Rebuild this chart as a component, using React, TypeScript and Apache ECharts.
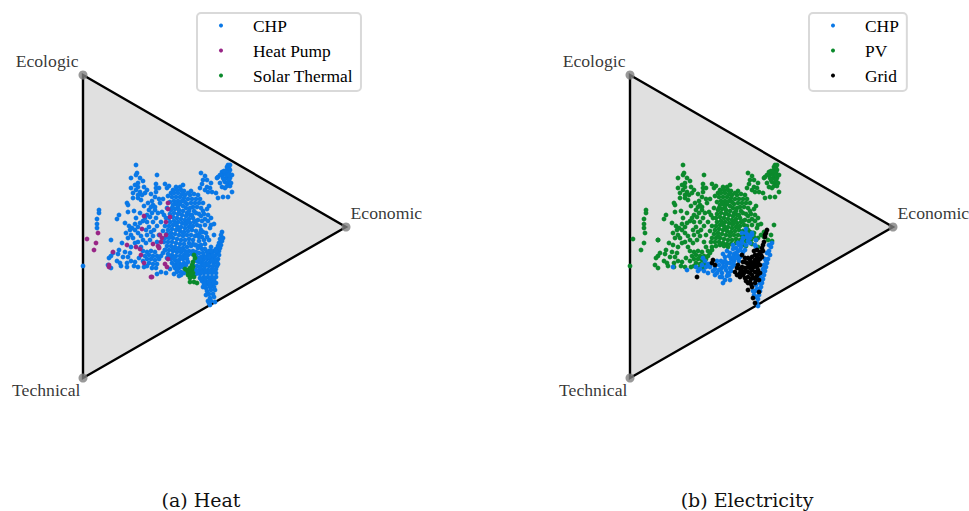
import React, { useEffect, useRef } from "react";
import * as echarts from "echarts";

const FONT = "'Liberation Serif', serif";
const CAPTION_FONT = "'DejaVu Serif', serif";
const BLUE = "#0a78e6";
const PURPLE = "#982586";
const GREEN = "#0b8a2c";
const BLACK = "#000000";

const cornerNames = ["Ecologic", "Economic", "Technical"];
const corners = [[0, 0], [263, 152], [0, 303]];
const heatLegend = ["CHP", "Heat Pump", "Solar Thermal"];
const elecLegend = ["CHP", "PV", "Grid"];

// horizontal distance from the triangle's left side, vertical distance below its apex
const sharedCloud = [
  [118,98],[122,101],[120,105],[124,105],[124,112],[127,113],[122,115],[129,117],[125,117],[135,123],[139,100],[139,97],[144,92],[145,90],[147,95],[144,95],[142,98],[146,98],[140,103],[144,103],[147,103],[142,107],[145,108],[144,111],[147,111],[142,113],[149,117],[140,122],[145,122],[134,103],[135,102],[143,100],[146,93],[141,105],[146,106],[143,97],[146,100],
  [107,120],[111,119],[115,120],[105,124],[109,124],[113,124],[117,124],[108,128],[112,128],[116,128],[104,129],[110,132],[114,132],[111,136],[107,133],[120,128],[118,133],[124,134],[121,139],[126,131],[118,141],[115,145],[119,146],[122,150],[128,143],
  [93,112],[97,112],[90,115],[94,115],[98,115],[101,116],[88,118],[91,118],[95,118],[99,119],[102,120],[89,122],[93,122],[97,122],[101,123],[91,126],[95,126],[99,126],[102,127],[87,127],[93,129],[97,129],[100,131],[90,130],[95,132],[82,109],[84,113],[85,121],[80,124],[76,124],
  [53,90],[54,98],[53,100],[74,100],[60,106],[55,108],[73,109],[55,112],[64,115],[73,113],[73,117],[53,115],[50,118],[57,117],[55,120],[50,123],[59,120],[55,123],[72,122],[69,126],[44,128],[45,130],[70,130],[68,132],[72,132],[66,135],[72,135],[51,136],[45,137],[69,138],[64,140],[67,142],[57,138],[36,140],[34,144],[16,135],[16,138],[14,144],[14,149],[14,153],[64,147],[70,147],[57,148],[52,149],[49,153],[55,152],[47,155],[52,155],[55,158],[48,160],[50,163],[45,163],[63,155],[66,152],[71,155],[64,160],[70,161],[60,165],[67,165],[55,167],[63,168],[52,168],[28,165],[30,178],[28,181],[26,183],[25,190],[28,193],[37,188],[38,191],[44,188],[44,192],[42,177],[40,182],[45,182],[52,187],[51,191],[55,192],[0,191],
  [64,177],[68,176],[72,177],[62,181],[66,180],[70,181],[74,181],[64,184],[68,184],[72,185],[76,184],[66,188],[70,189],[74,189],[78,181],[80,178],[64,191],[60,186],[76,172],[82,175],
  [88,135],[92,134],[96,135],[100,136],[104,138],[87,139],[91,138],[95,139],[99,140],[103,141],[107,140],[86,143],[90,142],[94,143],[98,144],[102,145],[106,144],[110,143],[87,147],[91,146],[95,147],[99,148],[103,149],[107,148],[111,147],[86,151],[90,150],[94,151],[98,152],[102,153],[106,152],[110,151],[114,150],[85,155],[89,154],[93,155],[97,156],[101,157],[105,156],[109,155],[113,156],[118,155],[84,159],[88,158],[92,159],[96,160],[100,161],[104,160],[108,160],[112,161],[82,163],[86,163],[90,163],[94,164],[98,165],[102,165],[106,164],[110,165],[81,167],[85,167],[89,167],[93,168],[97,169],[101,169],
  [125,140],[122,144],[131,149],[127,153],[123,158],[119,162],[116,166],[126,165],[131,160],[122,169],[128,172],[116,171],[113,170],
  [48,103],[57,103],[52,110],[61,112],[48,113],[58,125],[62,118],[68,119],[76,113],[77,128],[65,128],[61,131],[75,138],[62,143],[73,143],[60,146],[53,143],[42,148],[46,151],[43,158],[58,161],[68,157],[74,151],[78,147],[81,140],[80,156],[76,160],[74,167],[39,168],[48,172],[58,172],[36,175],[34,186],[48,186],[56,183],[60,176],[35,179],[47,178],[61,192],[69,193],[73,193],[84,133],[79,137],[82,151],[83,143],[137,108],[139,112],[141,96],[149,100],[147,90],[148,108],[137,100],[119,109],[117,113],[128,108],[133,118],[100,110],[86,111],[105,118],[108,116],[103,133],[106,136],[113,138],[116,139],[109,140],[120,136],[89,133],[96,138],[102,149],[92,149],[96,154],[100,158],[88,161],[108,152],[105,147],[113,146],[117,151],[120,157],[125,146],[128,150],[114,160],[117,158],[121,165],[124,162],[116,162],[106,168],[110,169],
];
const chpHeatOnly = [
  [84,171],[88,171],[92,172],[96,173],[100,173],[104,172],[108,171],[112,170],[82,175],[86,175],[90,176],[94,177],[98,177],[102,176],[106,176],[110,176],[85,179],[89,180],[93,181],[97,181],[101,180],[105,180],[109,179],[113,177],[88,184],[92,185],[96,185],[100,184],[104,184],[84,183],[89,188],[93,189],[97,189],[101,188],[105,187],[92,193],[96,193],[100,192],[94,197],[98,197],[87,194],[91,199],[96,201],[101,198],[78,197],[83,198],[74,199],
  [139,157],[138,160],[140,163],[137,164],[139,166],[136,168],[138,170],[135,171],[137,173],[133,174],[136,176],[131,176],[134,178],[128,178],[124,177],[136,180],[132,181],[129,181],[125,180],[121,181],[135,184],[131,184],[128,184],[124,184],[120,185],[134,187],[131,188],[127,187],[123,188],[119,188],[116,187],[134,191],[130,191],[126,191],[122,191],[118,191],[114,191],[133,194],[129,194],[125,195],[121,194],[117,195],[113,195],[133,198],[129,198],[125,198],[121,198],[117,199],[113,199],[133,202],[129,202],[125,202],[121,202],[117,203],[131,205],[127,205],[123,206],[119,206],[133,208],[129,209],[125,209],[121,209],[131,212],[127,212],[123,213],[120,212],[132,215],[128,215],[124,216],[130,219],[126,219],[123,220],[131,222],[127,223],[128,226],[125,226],[127,230],[126,228],[132,227],
  [118,170],[122,174],[113,181],[116,178],[126,176],[112,185],[115,183],[110,190],
  [90,174],[94,174],[98,175],[104,178],[87,182],[91,183],[99,183],[103,182],[95,187],[91,191],[95,191],[99,191],[103,190],[94,195],[98,200],[119,174],[115,173],[120,178],[118,182],[114,186],[117,185],[123,183],[126,182],[130,180],[133,176],[136,172],[128,176],[132,186],[129,186],[125,189],[121,190],[117,193],[115,197],[119,197],[123,196],[127,196],[131,196],[135,189],[122,204],[126,207],[130,206],[118,204],[122,211],[127,210],[131,208],
];
const purplePoints = [[4,164],[13,168],[11,175],[15,158],[30,177],[26,192],[44,170],[53,172],[57,174],[61,141],[59,154],[85,128],[85,134],[87,142],[83,147],[79,163],[77,160],[83,160],[78,167],[70,169],[75,171],[76,173],[58,180],[61,188],[85,184],[82,189],[84,192],[68,202],[69,202],[26,190]];
const solarPoints = [[111,180],[112,183],[110,187],[109,190],[107,193],[104,195],[102,194],[109,195],[105,197],[110,198],[105,200],[109,201],[111,202],[107,203],[107,207],[111,207],[114,208],[110,192],[107,197],[108,199],[106,195]];
const pvOnly = [[3,164],[28,165],[11,175],[15,158],[14,168],[43,170],[86,171],[90,170],[94,171],[82,172],[78,176],[98,172],[124,158],[134,157],[141,160],[144,150],[138,165],[142,166],[134,162],[128,163]];
const chpElec = [
  [73,183],[75,186],[72,190],[78,189],[80,192],[85,194],[89,190],[83,196],[91,186],[95,182],[93,192],[97,188],[87,186],[70,194],[74,196],[78,198],[85,200],[92,198],[96,195],[100,193],[90,202],[95,205],[100,205],[98,198],[104,190],[101,184],[104,179],[100,178],[106,173],[109,170],[103,174],[97,176],[93,179],[108,176],[112,166],[111,172],[116,170],[115,175],[118,166],[122,160],[112,158],[116,154],[122,158],[117,162],[120,168],[126,172],[126,165],[108,183],[112,180],[104,186],[113,177],[109,186],[57,195],[43,192],
  [142,168],[141,172],[139,176],[140,180],[138,184],[137,188],[136,192],[135,196],[134,200],[133,204],[132,208],[131,212],[130,216],[129,220],[128,224],[127,228],[128,231],[139,170],[137,178],[135,184],[134,190],[131,198],[128,204],[126,210],[125,216],[126,222],[133,194],[130,202],[125,204],[127,214],[123,216],[130,208],
  [106,178],[110,175],[103,182],[107,180],[100,188],[103,188],[96,191],[93,188],[89,195],[92,202],[97,201],[93,208],[101,196],[85,191],[80,189],[76,192],[66,192],[68,196],[112,168],[118,160],[113,163],[108,168],[103,170],[99,181],[95,186],[91,194],[87,198],[116,158],[120,163],[125,170],[110,182],[106,183],[102,192],[99,200],[131,206],[134,195],[136,186],[129,214],[124,220],[132,205],
];
const gridPoints = [[137,155],[136,158],[135,162],[134,167],[133,170],[132,173],[130,177],[127,175],[128,180],[125,180],[122,182],[118,183],[115,183],[112,180],[113,187],[117,188],[121,187],[125,185],[128,187],[132,182],[107,193],[105,197],[108,190],[112,192],[115,193],[118,192],[122,190],[127,192],[130,190],[107,200],[110,198],[114,198],[118,197],[122,195],[125,197],[128,195],[110,202],[115,203],[118,202],[122,200],[127,201],[130,198],[118,208],[120,207],[118,215],[122,212],[125,208],[129,205],[129,217],[123,223],[125,228],[83,185],[82,188],[85,190],[67,202],[124,176],[120,185],[130,184],[116,196],[112,196],[126,189],[120,193],[124,203],[113,200],[121,204],[116,206],[133,176],[135,160],[131,180],[127,183],[123,188],[119,190],[115,187],[110,194],[120,198],[124,192],[128,199],[126,205],[121,209]];

const triangle = (gridIndex: number) => ({
  type: "custom",
  xAxisIndex: gridIndex,
  yAxisIndex: gridIndex,
  silent: true,
  z: 1,
  data: corners,
  renderItem: (params: any, api: any) => {
    if (params.dataIndex !== 0) return null;
    return {
      type: "polygon",
      shape: { points: corners.map((c) => api.coord(c)) },
      style: { fill: "#e0e0e0", stroke: "#000000", lineWidth: 2.4 },
    };
  },
});

const cornerOffsets = [
  { position: "left", offset: [5, -14] },
  { position: "right", offset: [-5, -14] },
  { position: "left", offset: [7, 12] },
];

const cornerSeries = (gridIndex: number) => ({
  type: "scatter",
  xAxisIndex: gridIndex,
  yAxisIndex: gridIndex,
  symbolSize: 9,
  silent: true,
  z: 3,
  itemStyle: { color: "#7f7f7f" },
  data: corners.map((c, i) => ({
    name: cornerNames[i],
    value: c,
    label: { show: true, formatter: cornerNames[i], fontFamily: FONT, fontSize: 17.7, color: "#000", ...cornerOffsets[i] },
  })),
});

const pts = (name: string, color: string, data: number[][], gridIndex: number, z: number) => ({
  type: "scatter",
  name,
  xAxisIndex: gridIndex,
  yAxisIndex: gridIndex,
  symbol: "circle",
  symbolSize: 4.8,
  silent: true,
  z,
  itemStyle: { color, opacity: 1 },
  data,
});

const axis = (gridIndex: number, max: number, inverse: boolean) => ({
  type: "value",
  gridIndex,
  min: 0,
  max,
  inverse,
  show: false,
});

const legend = (data: string[], left: number) => ({
  data,
  orient: "vertical",
  left,
  top: 13,
  icon: "circle",
  itemWidth: 54,
  itemHeight: 4,
  itemGap: 8,
  padding: [4, 8, 7, 22],
  borderColor: "#d9d9d9",
  borderWidth: 2,
  borderRadius: 4,
  selectedMode: false,
  textStyle: { fontFamily: FONT, fontSize: 17.4, color: "#000", lineHeight: 17 },
});

const caption = (text: string, left: number) => ({
  text,
  left,
  top: 490,
  padding: 0,
  textAlign: "center",
  textStyle: { fontFamily: CAPTION_FONT, fontSize: 19, fontWeight: "normal", color: "#111" },
});

export default function App() {
  const ref = useRef<HTMLDivElement>(null);
  useEffect(() => {
    document.body.style.margin = "0";
    const chart = echarts.init(ref.current!, undefined, { renderer: "svg" });
    chart.setOption({
      animation: false,
      backgroundColor: "#ffffff",
      title: [caption("(a) Heat", 201), caption("(b) Electricity", 747)],
      legend: [legend(heatLegend, 197), legend(elecLegend, 809)],
      grid: [
        { left: 83, top: 75, width: 263, height: 303 },
        { left: 630, top: 75, width: 263, height: 303 },
      ],
      xAxis: [axis(0, 263, false), axis(1, 263, false)],
      yAxis: [axis(0, 303, true), axis(1, 303, true)],
      series: [
        triangle(0),
        triangle(1),
        pts("CHP", BLUE, [...sharedCloud, ...chpHeatOnly], 0, 4),
        pts("Heat Pump", PURPLE, purplePoints, 0, 5),
        pts("Solar Thermal", GREEN, solarPoints, 0, 6),
        pts("CHP", BLUE, chpElec, 1, 5),
        pts("PV", GREEN, [...sharedCloud, ...pvOnly], 1, 4),
        pts("Grid", BLACK, gridPoints, 1, 6),
        cornerSeries(0),
        cornerSeries(1),
      ],
    });
    return () => chart.dispose();
  }, []);
  return <div ref={ref} style={{ width: 969, height: 511 }} />;
}
